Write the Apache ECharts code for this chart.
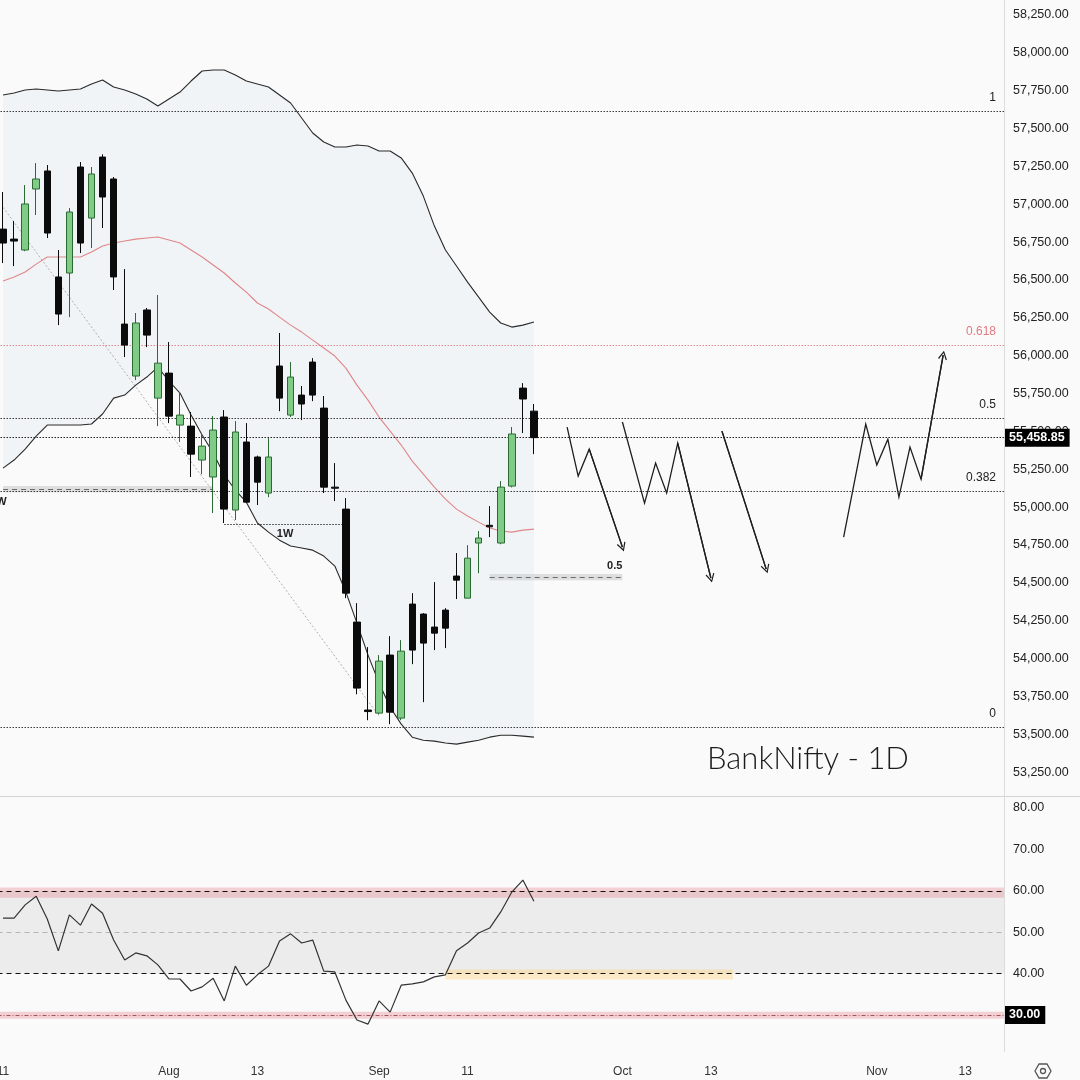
<!DOCTYPE html>
<html>
<head>
<meta charset="utf-8">
<title>BankNifty - 1D</title>
<script src="https://cdn.jsdelivr.net/npm/echarts@6.0.0/dist/echarts.min.js"></script>
<style>
  html, body { margin: 0; padding: 0; background: #fafafa; }
  #chart { width: 1080px; height: 1080px; }
</style>
</head>
<body>
<div id="chart"></div>
<script>
// trading days: weekdays, minus exchange holidays in the past part
function weekdays(from, to, skip) {
  const out = [];
  const d = new Date(from + 'T00:00:00Z');
  const end = new Date(to + 'T00:00:00Z');
  while (d <= end) {
    const wd = d.getUTCDay();
    const s = d.toISOString().slice(0, 10);
    if (wd !== 0 && wd !== 6 && !skip.includes(s)) out.push(s);
    d.setUTCDate(d.getUTCDate() + 1);
  }
  return out;
}
const holidays = ['2025-08-15', '2025-08-27'];
const dates = weekdays('2025-07-11', '2025-09-19', holidays)
  .concat(weekdays('2025-09-22', '2025-11-18', []));

const tickLabels = {
  '2025-07-11': '11', '2025-08-01': 'Aug', '2025-08-13': '13',
  '2025-09-01': 'Sep', '2025-09-11': '11', '2025-10-01': 'Oct',
  '2025-10-13': '13', '2025-11-03': 'Nov', '2025-11-13': '13'
};

// [open, close, low, high]
const candles = [
  [56836, 56744, 56612, 57081], [56770, 56757, 56592, 56889], [56698, 57002, 56690, 57127],
  [57101, 57167, 56929, 57272], [57220, 56810, 56777, 57259], [56520, 56275, 56202, 56698],
  [56546, 56949, 56255, 56975], [57246, 56744, 56678, 57279], [56909, 57200, 56711, 57246],
  [57312, 57048, 56843, 57330], [57167, 56520, 56434, 57180], [56209, 56070, 55991, 56572],
  [55866, 56216, 55839, 56282], [56302, 56136, 56057, 56315], [55720, 55951, 55535, 56401],
  [55885, 55601, 55555, 56090], [55542, 55608, 55430, 55760], [55535, 55350, 55199, 55628],
  [55311, 55403, 55218, 55489], [55199, 55509, 54961, 55601], [55595, 54987, 54895, 55641],
  [54981, 55496, 54915, 55568], [55430, 55033, 55027, 55555], [55331, 55165, 55014, 55340],
  [55093, 55331, 55066, 55456], [55932, 55720, 55634, 56150], [55608, 55859, 55595, 55958],
  [55740, 55681, 55575, 55800], [55958, 55740, 55700, 55984], [55654, 55132, 55093, 55734],
  [55132, 55125, 55040, 55291], [54987, 54432, 54399, 55060], [54241, 53805, 53764, 54366],
  [53660, 53650, 53593, 54076], [53640, 53983, 53630, 54023], [54023, 53646, 53567, 54148],
  [53607, 54049, 53593, 54122], [54360, 54056, 53963, 54432], [54294, 54102, 53712, 54300],
  [54208, 54168, 54056, 54505], [54320, 54201, 54069, 54333], [54545, 54518, 54393, 54697],
  [54399, 54663, 54399, 54749], [54763, 54796, 54564, 54842], [54880, 54870, 54802, 55007],
  [54763, 55132, 54755, 55172], [55139, 55483, 55130, 55529], [55786, 55714, 55489, 55819],
  [55634, 55458.85, 55350, 55681]
];

// bollinger bands (20)
const bbUpper = [57722, 57735, 57755, 57761, 57755, 57748, 57755, 57761, 57794, 57821,
  57774, 57755, 57728, 57695, 57649, 57695, 57741, 57814, 57880, 57887,
  57887, 57854, 57814, 57794, 57774, 57722, 57669, 57570, 57471, 57411,
  57378, 57378, 57391, 57385, 57352, 57352, 57306, 57206, 57054, 56856,
  56698, 56592, 56486, 56387, 56288, 56216, 56189, 56202, 56222];
const bbMiddle = [56493, 56520, 56553, 56605, 56652, 56652, 56652, 56652, 56685, 56724,
  56744, 56757, 56770, 56777, 56784, 56764, 56744, 56698, 56652, 56599,
  56546, 56480, 56420, 56348, 56308, 56255, 56202, 56156, 56103, 56051,
  55998, 55918, 55806, 55707, 55595, 55502, 55410, 55304, 55218, 55132,
  55053, 54987, 54941, 54901, 54862, 54842, 54835, 54848, 54855];
const bbLower = [55258, 55311, 55383, 55469, 55542, 55542, 55542, 55542, 55549, 55615,
  55720, 55740, 55806, 55859, 55925, 55833, 55753, 55608, 55476, 55357,
  55212, 55113, 55033, 54895, 54835, 54782, 54743, 54730, 54716, 54677,
  54611, 54439, 54234, 54023, 53838, 53679, 53567, 53481, 53461, 53455,
  53442, 53435, 53448, 53461, 53481, 53494, 53494, 53488, 53481];

const rsi = [53.4, 53.4, 56.6, 58.7, 53.2, 45.5, 54.2, 51.7, 56.8, 54.6,
  48.1, 43.3, 45.0, 44.3, 42.1, 38.7, 38.7, 35.8, 36.8, 38.9,
  33.4, 41.8, 37.2, 39.7, 41.8, 47.9, 49.6, 47.4, 48.1, 40.6,
  40.4, 33.6, 28.8, 27.8, 33.4, 30.7, 37.2, 37.5, 38.0, 39.2,
  39.7, 45.5, 47.4, 49.8, 51.0, 54.9, 59.7, 62.6, 57.5];

const lastPrice = 55458.85;
const fibLevels = [
  { name: '1', price: 57616 },
  { name: '0.618', price: 56070 },
  { name: '0.5', price: 55588 },
  { name: '0.382', price: 55106 },
  { name: '0', price: 53547 }
];
// dashed zones: [fromIdx, toIdx, low, high, mid]
const zones = [
  { from: 0, to: 19, lo: 55099, hi: 55139, mid: 55119, label: '1W' },
  { from: 44, to: 56, lo: 54518, hi: 54558, mid: 54538, label: '0.5' }
];
const weeklyLevel = { from: 20, to: 31, price: 54888, label: '1W' };
const trendLine = [[0, 56980], [34, 53620]];
// projected path sketches [barIdx, price]
const projections = [
  [[51, 55529], [52, 55205], [53, 55383], [56, 54736]],
  [[56, 55562], [58, 55027], [59, 55291], [60, 55093], [61, 55423], [64, 54531]],
  [[65, 55502], [69, 54591]],
  [[76, 54802], [78, 55549], [79, 55278], [80, 55449], [81, 55066], [82, 55397], [83, 55185], [85, 56004]]
];
const rsiLevels = { upper: 60, mid: 50, lower: 40, floor: 30 };
const rsiHighlight = { from: 40, to: 66, lo: 38.6, hi: 41 };

const fmt = v => v.toLocaleString('en-US', { minimumFractionDigits: 2, maximumFractionDigits: 2 });
const axisFont = 'Liberation Sans';
const chevron = 'path://M5,0 L10,9 L8.8,9.7 L5,2.6 L1.2,9.7 L0,9 Z';
const zoneLabel = { show: true, color: '#222', fontSize: 11, fontWeight: 'bold', fontFamily: axisFont };

const chart = echarts.init(document.getElementById('chart'));

const option = {
  backgroundColor: '#fafafa',
  animation: false,
  grid: [
    { left: -2.5, right: 76, top: 0, height: 810, outerBoundsMode: 'none', containLabel: false },
    { left: -2.5, right: 76, top: 797, height: 259.4, outerBoundsMode: 'none', containLabel: false }
  ],
  xAxis: [
    { type: 'category', gridIndex: 0, data: dates, show: false },
    {
      type: 'category', gridIndex: 1, data: dates,
      axisLine: { show: false }, axisTick: { show: false }, splitLine: { show: false },
      axisLabel: {
        interval: (idx, val) => tickLabels[val] !== undefined,
        formatter: val => tickLabels[val] || '',
        color: '#333', fontSize: 12, margin: 9, fontFamily: axisFont
      }
    }
  ],
  yAxis: [
    {
      type: 'value', gridIndex: 0, position: 'right', min: 53000, max: 58349, interval: 250,
      axisLine: { show: false }, axisTick: { show: false }, splitLine: { show: false },
      axisLabel: {
        margin: 9, color: '#222', fontSize: 12.5, fontFamily: axisFont,
        formatter: v => (v % 250 === 0 && v > 53000) ? fmt(v) : ''
      }
    },
    {
      type: 'value', gridIndex: 1, position: 'right', min: 20, max: 82.66, interval: 10,
      axisLine: { show: false }, axisTick: { show: false }, splitLine: { show: false },
      axisLabel: {
        margin: 9, color: '#222', fontSize: 12.5, fontFamily: axisFont,
        formatter: v => (v % 10 === 0 && v > 30) ? fmt(v) : ''
      }
    }
  ],
  graphic: [
    { type: 'line', shape: { x1: 0, y1: 796.5, x2: 1080, y2: 796.5 }, style: { stroke: '#d4d4d4', lineWidth: 1 }, z: 10 },
    { type: 'line', shape: { x1: 1004.5, y1: 0, x2: 1004.5, y2: 1052 }, style: { stroke: '#dcdcdc', lineWidth: 1 }, z: 10 },
    {
      type: 'text', left: 707, top: 743, z: 20,
      style: { text: 'BankNifty - 1D', font: '300 31px Lato', fill: '#1c1c1c' }
    },
    {
      type: 'group', x: 1043, y: 1071, z: 20,
      children: [
        { type: 'polygon', shape: { points: [[-8, 0], [-4, -7], [4, -7], [8, 0], [4, 7], [-4, 7]] }, style: { fill: 'none', stroke: '#555', lineWidth: 1.3 } },
        { type: 'circle', shape: { cx: 0, cy: 0, r: 2.5 }, style: { fill: 'none', stroke: '#555', lineWidth: 1.3 } }
      ]
    }
  ],
  series: [
    // band fill
    {
      type: 'line', xAxisIndex: 0, yAxisIndex: 0, data: bbLower, stack: 'bb', symbol: 'none',
      lineStyle: { opacity: 0 }, silent: true, z: 1
    },
    {
      type: 'line', xAxisIndex: 0, yAxisIndex: 0, data: bbUpper.map((u, i) => u - bbLower[i]),
      stack: 'bb', symbol: 'none', lineStyle: { opacity: 0 },
      areaStyle: { color: 'rgba(200,218,232,0.2)', opacity: 1 }, silent: true, z: 1
    },
    {
      type: 'line', xAxisIndex: 0, yAxisIndex: 0, data: bbUpper, symbol: 'none',
      lineStyle: { color: '#2a2a2a', width: 1.1 }, silent: true, z: 3
    },
    {
      type: 'line', xAxisIndex: 0, yAxisIndex: 0, data: bbLower, symbol: 'none',
      lineStyle: { color: '#2a2a2a', width: 1.1 }, silent: true, z: 3
    },
    {
      type: 'line', xAxisIndex: 0, yAxisIndex: 0, data: bbMiddle, symbol: 'none',
      lineStyle: { color: '#e0868a', width: 1.1 }, silent: true, z: 3,
      markArea: {
        silent: true,
        itemStyle: { color: 'rgba(140,140,140,0.25)' },
        data: zones.map(z => [{ coord: [z.from, z.hi] }, { coord: [z.to, z.lo] }])
      },
      markLine: {
        silent: true, symbol: 'none',
        data: [
          [
            { coord: [zones[0].from, zones[0].mid], lineStyle: { color: '#6a6a6a', type: [5, 4], width: 1 },
              label: Object.assign({ formatter: zones[0].label, position: 'insideStartBottom', distance: [0, 7], offset: [-13, 0] }, zoneLabel) },
            { coord: [zones[0].to, zones[0].mid] }
          ],
          [
            { coord: [zones[1].from, zones[1].mid], lineStyle: { color: '#6a6a6a', type: [5, 4], width: 1 },
              label: Object.assign({ formatter: zones[1].label, position: 'insideEndTop', distance: [0, 6] }, zoneLabel) },
            { coord: [zones[1].to, zones[1].mid] }
          ],
          [
            { coord: [weeklyLevel.from, weeklyLevel.price], lineStyle: { color: '#333', type: [1.5, 1.5], width: 1 },
              label: Object.assign({ formatter: weeklyLevel.label, position: 'insideMiddleBottom', distance: 4 }, zoneLabel) },
            { coord: [weeklyLevel.to, weeklyLevel.price] }
          ]
        ]
      }
    },
    // diagonal trend line
    {
      type: 'line', xAxisIndex: 0, yAxisIndex: 0, data: trendLine, symbol: 'none',
      lineStyle: { color: '#b0b0b0', width: 1, type: [2, 2] }, silent: true, z: 2
    },
    {
      type: 'candlestick', xAxisIndex: 0, yAxisIndex: 0, data: candles, barWidth: 7, z: 5,
      itemStyle: {
        color: '#80cc87', color0: '#0b0b0b',
        borderColor: '#2c6a33', borderColor0: '#0b0b0b', borderWidth: 1
      },
      markLine: {
        silent: true, symbol: 'none',
        data: fibLevels.map(f => ({
          yAxis: f.price,
          lineStyle: { color: f.name === '0.618' ? '#e08a8e' : '#3a3a3a', type: [1.5, 1.5], width: 1 },
          label: {
            show: true, formatter: f.name, position: 'insideEndTop', distance: [8, 7],
            color: f.name === '0.618' ? '#e07a80' : '#222', fontSize: 12, fontFamily: axisFont
          }
        })).concat([{
          yAxis: lastPrice,
          lineStyle: { color: '#222', type: [1.5, 1.5], width: 1 },
          label: {
            show: true, formatter: fmt(lastPrice), position: 'end', distance: 1,
            backgroundColor: '#000', color: '#fff', padding: [3, 5, 2, 4],
            fontSize: 12.5, fontWeight: 'bold', fontFamily: axisFont
          }
        }])
      }
    },
    // projected path sketches
    {
      type: 'lines', coordinateSystem: 'cartesian2d', xAxisIndex: 0, yAxisIndex: 0,
      polyline: true, silent: true, z: 4,
      lineStyle: { color: '#1e1e1e', width: 1.3, opacity: 1 },
      data: projections.map(p => ({ coords: p }))
    },
    {
      type: 'lines', coordinateSystem: 'cartesian2d', xAxisIndex: 0, yAxisIndex: 0,
      silent: true, z: 4, symbol: ['none', chevron], symbolSize: 9,
      lineStyle: { color: '#1e1e1e', width: 1.3, opacity: 1 },
      data: projections.map(p => ({ coords: p.slice(-2) }))
    },
    // RSI pane
    {
      type: 'line', xAxisIndex: 1, yAxisIndex: 1, data: rsi, symbol: 'none',
      lineStyle: { color: '#333', width: 1.2 }, silent: true, z: 5,
      markArea: {
        silent: true,
        data: [
          [{ yAxis: rsiLevels.lower, itemStyle: { color: 'rgba(0,0,0,0.055)' } }, { yAxis: rsiLevels.upper }],
          [{ yAxis: 58.3, itemStyle: { color: 'rgba(230,120,130,0.32)' } }, { yAxis: 60.8 }],
          [{ yAxis: 29.1, itemStyle: { color: 'rgba(230,120,130,0.32)' } }, { yAxis: 30.8 }],
          [{ coord: [rsiHighlight.from, rsiHighlight.hi], itemStyle: { color: 'rgba(255,205,110,0.38)' } },
           { coord: [rsiHighlight.to, rsiHighlight.lo] }]
        ]
      },
      markLine: {
        silent: true, symbol: 'none',
        label: { show: false },
        data: [
          { yAxis: rsiLevels.upper, lineStyle: { color: '#111', type: [5, 4], width: 1.2 } },
          { yAxis: rsiLevels.mid, lineStyle: { color: '#b5b5b5', type: [5, 4], width: 1 } },
          { yAxis: rsiLevels.lower, lineStyle: { color: '#111', type: [5, 4], width: 1.1 } },
          {
            yAxis: rsiLevels.floor, lineStyle: { color: '#a0555b', type: [4, 2, 1, 2], width: 1 },
            label: {
              show: true, formatter: fmt(rsiLevels.floor), position: 'end', distance: 1,
              backgroundColor: '#000', color: '#fff', padding: [3, 5, 2, 4],
              fontSize: 12.5, fontWeight: 'bold', fontFamily: axisFont
            }
          }
        ]
      }
    }
  ]
};

chart.setOption(option);
</script>
</body>
</html>
